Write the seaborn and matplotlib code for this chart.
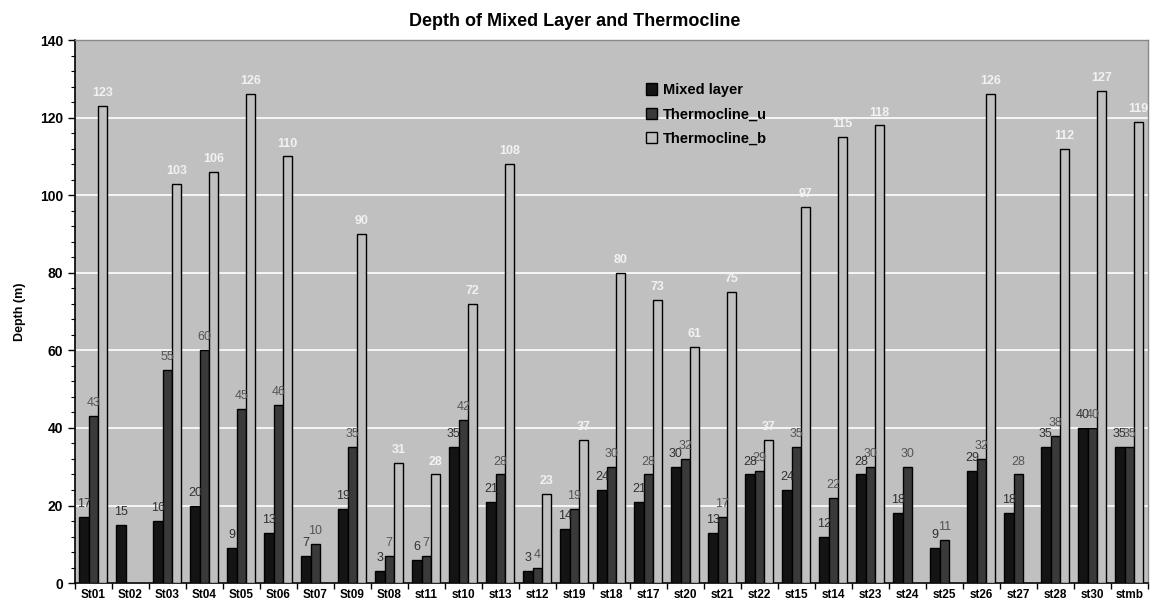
import numpy as np
import pandas as pd
import matplotlib
matplotlib.use("Agg")
import matplotlib.pyplot as plt
import seaborn as sns
from matplotlib.ticker import MultipleLocator, FixedLocator

stations = ["St01", "St02", "St03", "St04", "St05", "St06", "St07", "St09", "St08", "st11",
            "st10", "st13", "st12", "st19", "st18", "st17", "st20", "st21", "st22", "st15",
            "st14", "st23", "st24", "st25", "st26", "st27", "st28", "st30", "stmb"]
mixed_layer = [17, 15, 16, 20, 9, 13, 7, 19, 3, 6, 35, 21, 3, 14, 24, 21, 30, 13, 28, 24,
               12, 28, 18, 9, 29, 18, 35, 40, 35]
thermocline_u = [43, np.nan, 55, 60, 45, 46, 10, 35, 7, 7, 42, 28, 4, 19, 30, 28, 32, 17, 29, 35,
                 22, 30, 30, 11, 32, 28, 38, 40, 35]
thermocline_b = [123, np.nan, 103, 106, 126, 110, np.nan, 90, 31, 28, 72, 108, 23, 37, 80, 73, 61, 75, 37, 97,
                 115, 118, np.nan, np.nan, 126, np.nan, 112, 127, 119]
series_names = ["Mixed layer", "Thermocline_u", "Thermocline_b"]

df = pd.DataFrame({"Station": stations,
                   series_names[0]: mixed_layer,
                   series_names[1]: thermocline_u,
                   series_names[2]: thermocline_b})
long = df.melt(id_vars="Station", var_name="Series", value_name="Depth").dropna()

sns.set_theme(style="white")
plt.rcParams['font.family'] = ['Liberation Sans', 'DejaVu Sans']
plt.rcParams['text.color'] = 'black'
plt.rcParams['axes.labelcolor'] = 'black'
plt.rcParams['xtick.color'] = 'black'
plt.rcParams['ytick.color'] = 'black'

fig = plt.figure(figsize=(11.5, 6.08), dpi=100)
ax = fig.add_axes([0.065, 0.041, 0.933, 0.893])
ax.set_facecolor("#c0c0c0")

palette = {"Mixed layer": "#141414", "Thermocline_u": "#3a3a3a", "Thermocline_b": "#c0c0c0"}
sns.barplot(data=long, x="Station", y="Depth", hue="Series", order=stations,
            hue_order=series_names, palette=palette, errorbar=None, width=0.76,
            edgecolor="black", linewidth=1.0, saturation=1, ax=ax, zorder=3)

label_colors = ["#303030", "#555555", "#f2f2f2"]
label_weights = ["normal", "normal", "bold"]
for cont, col, wt in zip(ax.containers, label_colors, label_weights):
    ax.bar_label(cont, fmt="%d", color=col, fontsize=9, fontweight=wt, padding=5)

ax.set_ylim(0, 140)
ax.set_xlim(-0.5, len(stations) - 0.5)
ax.yaxis.set_major_locator(MultipleLocator(20))
ax.yaxis.set_minor_locator(MultipleLocator(4))
ax.grid(axis="y", which="major", color="white", linewidth=1.2, zorder=0)
ax.set_axisbelow(True)

ax.xaxis.set_minor_locator(FixedLocator(np.arange(-0.5, len(stations), 1.0)))
ax.tick_params(axis="x", which="major", length=0, pad=4, labelsize=8.5)
ax.tick_params(axis="x", which="minor", length=4, width=1, color="black", bottom=True)
ax.tick_params(axis="y", which="major", length=5, width=1, color="black", left=True, labelsize=10)
ax.tick_params(axis="y", which="minor", length=3, width=0.8, color="black", left=True)
for lab in ax.get_xticklabels() + ax.get_yticklabels():
    lab.set_fontweight("bold")

for s in ["left", "bottom"]:
    ax.spines[s].set_color("black")
    ax.spines[s].set_linewidth(1.2)
for s in ["top", "right"]:
    ax.spines[s].set_color("#888888")
    ax.spines[s].set_linewidth(1.0)

ax.set_xlabel("")
ax.set_ylabel("Depth (m)", fontsize=9, fontweight="bold", labelpad=10)
fig.suptitle("Depth of Mixed Layer and Thermocline", fontsize=13, fontweight="bold", y=0.979)

leg = ax.legend(loc="upper left", bbox_to_anchor=(0.52, 0.945), frameon=False,
                fontsize=10.5, handlelength=0.8, handleheight=0.8, labelspacing=0.7,
                handletextpad=0.4)
for t in leg.get_texts():
    t.set_fontweight("bold")

fig.savefig("out.png", dpi=100, facecolor="white")
